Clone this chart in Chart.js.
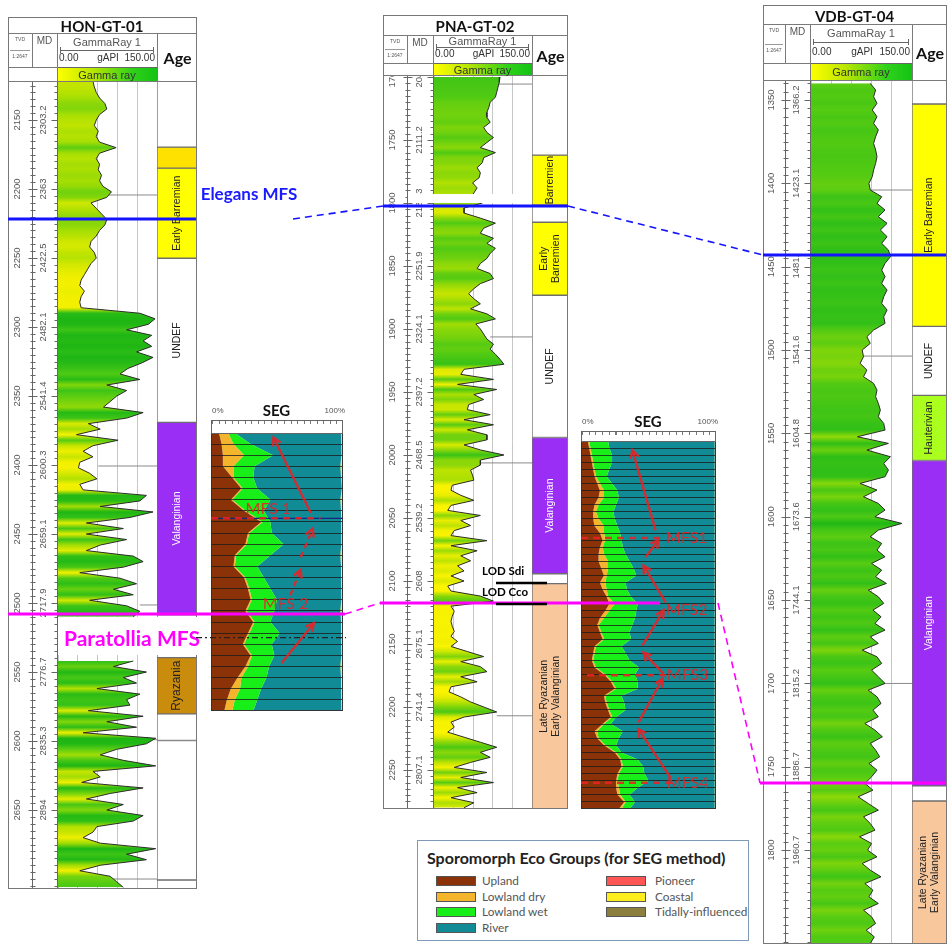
<!DOCTYPE html>
<html>
<head>
<meta charset="utf-8">
<title>Well correlation HON-GT-01 / PNA-GT-02 / VDB-GT-04</title>
<script src="https://cdn.jsdelivr.net/npm/chart.js@4.4.1/dist/chart.umd.min.js"></script>
<style>
  html,body{margin:0;padding:0;background:#fff;}
  #page{position:relative;width:951px;height:945px;overflow:hidden;background:#fff;font-family:'Liberation Sans',Arial,sans-serif;}
  #page canvas{position:absolute;}
</style>
</head>
<body>
<div id="page"></div>
<script>
// ---------------- well data ----------------
const WELL_NAMES = ['HON-GT-01', 'PNA-GT-02', 'VDB-GT-04'];

// HON-GT-01 : TVD ticks and matching MD labels
const HON_TVD_TICKS = [2150, 2200, 2250, 2300, 2350, 2400, 2450, 2500, 2550, 2600, 2650];
const HON_MD_LABELS = ['2303.2', '2363', '2422.5', '2482.1', '2541.4', '2600.3', '2659.1', '2717.9', '2776.7', '2835.3', '2894'];
// gamma ray (gAPI) sampled every 4 m TVD from 2122 m
const HON_GR_START = 2122, HON_GR_STEP = 4;
const HON_GR = [53,55,58,63,71,74,63,58,55,61,58,63,88,63,58,63,61,66,63,68,81,74,50,58,66,74,71,63,58,50,48,55,58,50,45,40,35,33,40,35,33,35,124,147,137,104,142,129,142,119,144,127,106,94,124,
  74,104,89,79,69,129,104,46,64,28,91,53,38,53,33,31,48,59,33,38,134,124,64,144,109,43,99,43,104,64,43,114,129,99,33,94,119,84,114,48,104,124,114,
  null,null,null,null,null,null,null,
  114,84,134,99,119,59,124,104,109,46,129,74,119,38,148,134,89,64,99,148,53,64,36,129,79,43,99,74,129,114,59,53,38,64,148,104,134,64,33,79,89,99];
const HON_AGE_BOUNDS = [2121.7, 2169.6, 2184.8, 2250, 2368.8, 2508, 2539, 2579.7, 2599, 2700, 2706.5];
const HON_AGE_LABELS = ['', '', 'Early Barremian', 'UNDEF', 'Valanginian', '', 'Ryazania', '', '', ''];
const HON_AGE_KINDS = ['blank', 'barremianUpper', 'earlyBarremian', 'undef', 'valanginian', 'blank', 'ryazanian', 'blank', 'blank', 'blank'];
const HON_TOPS_TVD = [2204.3, 2400.7, 2501.4, 2599, 2700];
const HON_TOPS_GR = [74, 61, 124, 135, 79];

// PNA-GT-02
const PNA_TVD_TICKS = [1700, 1750, 1800, 1850, 1900, 1950, 2000, 2050, 2100, 2150, 2200, 2250];
const PNA_MD_LABELS = ['2041', '2111.2', '2181.3', '2251.9', '2324.1', '2397.2', '2468.5', '2539.2', '2608', '2675.1', '2741.4', '2807.1'];
const PNA_GR_START = 1700, PNA_GR_STEP = 4;
const PNA_GR = [101,100,98,96,94,86,84,81,81,86, 76,81,91,81,71,94,76,74,66,71, 69,59,66,61,56,74,46,46,71,94,
  76,71,91,81,94,86,81,71,66,86, 91,71,61,53,61,71,56,81,94,64, 71,76,81,91,86,94,101,107,46,41,
  91,36,96,61,76,53,51,86,46,91, 51,81,81,46,71,107,71,71,56,59, 61,28,26,41,61,26,21,71,41,56,
  31,26,81,26,66,41,56,36,46,26, 46,21,26,71,91,26,31,28,26,28, 31,26,36,26,51,76,41,71,81,41,
  66,26,23,41,56,76,96,46,26,31, 21,46,71,96,71,86, 56,31,81,41,91,36,66,26,61,46];
const PNA_AGE_BOUNDS = [1698.4, 1761.9, 1801.6, 1815.1, 1873, 1985.7, 2093.7, 2101.6, 2280.2];
const PNA_AGE_LABELS = ['', 'Barremien', '', 'Early\nBarremien', 'UNDEF', 'Valanginian', '', 'Late Ryazanian\nEarly Valanginian'];
const PNA_AGE_KINDS = ['blank', 'earlyBarremian', 'blank', 'earlyBarremian', 'undef', 'valanginian', 'blank', 'lateRyazanian'];
const PNA_TOPS_TVD = [1705.6, 1906.3, 2006.3, 2207];
const PNA_TOPS_GR = [86, 86, 66, 96];
const PNA_LOD_NAMES = ['LOD Sdi', 'LOD Cco'];
const PNA_LOD_TVD = [2101.6, 2118.3];

// VDB-GT-04
const VDB_TVD_TICKS = [1350, 1400, 1450, 1500, 1550, 1600, 1650, 1700, 1750, 1800];
const VDB_MD_LABELS = ['1366.2', '1423.1', '1481.', '1541.6', '1604.8', '1673.6', '1744.1', '1815.2', '1886.7', '1960.7'];
const VDB_GR_START = 1340, VDB_GR_STEP = 4;
const VDB_GR = [88,96,93,98,91,98,93,100,96,93, 96,98,96,93,91,86,88,105,98,110, 100,113,103,113,105,115,118,110,105,110,
  105,113,108,105,113,108,110,93,83,88, 76,78,73,83,78,93,98,96,100,103, 100,108,110,69,115,83,118,108,115,110,
  73,98,78, 100,110,95,135,100,88,105,98,110,90, 105,96,112,85,100,108,92,104,95,110, 88,100,76,98,105,90,100,110,85,98,
  104,92,100,80,95,106,88,96,102,86, 98,90,80,92,70,85,100,78,88,95, 72,90,84,98,76,88,104,80,92,86, 100,78,90,96,82,94,88];
const VDB_AGE_BOUNDS = [1338, 1352.4, 1485.6, 1527, 1566, 1761, 1770, 1855.7];
const VDB_AGE_LABELS = ['', 'Early Barremian', 'UNDEF', 'Hauterivian', 'Valanginian', '', 'Late Ryazanian\nEarly Valanginian'];
const VDB_AGE_KINDS = ['blank', 'earlyBarremian', 'undef', 'hauterivian', 'valanginian', 'blank', 'lateRyazanian'];
const VDB_TOPS_TVD = [1404, 1503.6, 1700];
const VDB_TOPS_GR = [88, 69, 100];

// maximum flooding surfaces (TVD per well: HON, PNA, VDB)
const MFS_NAMES = ['Elegans MFS', 'Paratollia MFS'];
const MFS_HON = [2221.7, 2508];
const MFS_PNA = [1802.4, 2117.5];
const MFS_VDB = [1443, 1759.7];

// ---------------- SEG (sporomorph eco groups, % per sample) ----------------
const SEG_GROUPS = ['Upland', 'Lowland dry', 'Lowland wet', 'River', 'Coastal'];
const SEG1_UPLAND  = [6,8,9,9,16,23,15,25,38,28,26,18,17,25,28,30,26,32,28,24,30,26,20,15,12,10];
const SEG1_LOWDRY  = [7,9,16,8,1,1,1,1,1,1,1,1,1,1,1,1,1,1,1,1,1,2,3,7,6,6];
const SEG1_LOWWET  = [5,13,22,16,15,11,29,14,6,17,28,26,17,14,16,19,21,12,23,21,17,16,19,16,17,16];
const SEG1_RIVER   = [80.5,68.5,52,65,66.5,64,53,58.5,54,52.5,43.5,53,63.5,59,53.5,48.5,50,53.5,47,52.5,50.5,54,56.5,61,63.5,66.5];
const SEG1_COASTAL = [1.5,1.5,1,2,1.5,1,2,1.5,1,1.5,1.5,2,1.5,1,1.5,1.5,2,1.5,1,1.5,1.5,2,1.5,1,1.5,1.5];

const SEG2_UPLAND  = [5,6,7,8,9,10,12,14,13,10, 9,9,10,14,16,14,13,13,15,17, 14,16,19,21,18,14,12,14,16,10, 9,8,10,17,22,25,17,18,20,22, 16,10,12,17,25,29,30,27,26,26, 27,32,28];
const SEG2_LOWDRY  = [1,1,1,1,1,1,2,3,4,3, 2,4,7,3,2,2,4,7,5,2, 4,3,1,4,3,3,1,1,1,1, 1,1,1,1,1,1,1,1,1,1, 1,2,1,1,1,1,1,1,1,2, 2,1,2];
const SEG2_LOWWET  = [14,14,15,14,11,8,9,10,11,13, 13,12,10,12,12,15,16,16,19,22, 15,15,17,17,20,23,25,21,20,19, 23,27,32,22,19,16,12,13,12,3, 5,19,15,8,4,12,15,19,23,14, 7,7,6];
const SEG2_RIVER   = [79,78,76,76,78,80,76,72,71,73, 75,74,72,70,69,68,66,63,60,58, 66,65,62,57,58,59,61,63,62,69, 66,63,56,59,57,57,69,67,66,73, 77,68,71,73,69,57,53,52,49,57, 63,59,63];
const SEG2_COASTAL = [1,1,1,1,1,1,1,1,1,1, 1,1,1,1,1,1,1,1,1,1, 1,1,1,1,1,1,1,1,1,1, 1,1,1,1,1,1,1,1,1,1, 1,1,1,1,1,1,1,1,1,1, 1,1,1];

// SEG interpretation: MFS positions (sample index) and trend arrows [x%, sample, x%, sample, dashed]
const SEG1_MFS_NAMES = ['MFS 1', 'MFS 2'];
const SEG1_MFS_SAMPLE = [7.67, 15.4];
const SEG1_ARROWS = [[75.6, 7.2, 47.3, 0.4, false], [67.9, 11.2, 77.1, 8.6, true], [60, 14.6, 67.9, 12.3, true], [53.4, 20.7, 77.9, 17.1, false]];
const SEG2_MFS_NAMES = ['MFS1', 'MFS2', 'MFS3', 'MFS4'];
const SEG2_MFS_SAMPLE = [13.7, 23.1, 33.1, 48.3];
const SEG2_ARROWS = [[55.2, 12.6, 38.1, 1.3, false], [47.8, 16.4, 57.5, 14.0, false], [62.7, 22.8, 46.3, 17.6, false],
  [45.5, 28.9, 61.2, 23.9, false], [61.2, 32.9, 46.3, 29.9, false], [42.5, 39.8, 60.4, 33.6, false], [66.4, 47.6, 42.5, 40.7, false]];

const LEGEND_COL1 = ['Upland', 'Lowland dry', 'Lowland wet', 'River'];
const LEGEND_COL2 = ['Pioneer', 'Coastal', 'Tidally-influenced'];

// ---------------- styles ----------------
const SEG_COLORS = {'Upland': '#8b3208', 'Lowland dry': '#f4b42c', 'Lowland wet': '#18ef18', 'River': '#118c96',
  'Pioneer': '#ff5555', 'Coastal': '#ffee1e', 'Tidally-influenced': '#8c7f3e'};
const AGE_FILL = {blank: '#ffffff', undef: '#ffffff', barremianUpper: '#ffe100', earlyBarremian: '#ffff00',
  valanginian: '#9a2ef5', hauterivian: '#aaff1e', ryazanian: '#c98c0c', lateRyazanian: '#f8c79c'};
const AGE_TEXT = {valanginian: '#ffffff'};
const GR_RAMP = [[20, [255, 245, 0]], [40, [236, 238, 0]], [55, [192, 228, 0]], [70, [142, 216, 8]],
  [90, [88, 204, 18]], [110, [50, 192, 24]], [140, [30, 182, 20]]];
const RED = 'rgba(236,32,36,0.88)';

// panel geometry (page pixels)
const LAYOUT = [
  {L: 8, R: 196, top: 17, titleBot: 33, barTop: 67, logTop: 81, logBot: 888, cTvd: 32, cMd: 57, cGr: 157, gTitleY: 42, rulerY: 50, valY: 58, yMin: 2121.7, yMax: 2706.5},
  {L: 383, R: 567, top: 15, titleBot: 35, barTop: 63, logTop: 75, logBot: 808, cTvd: 407, cMd: 433, cGr: 532, gTitleY: 41, rulerY: 47, valY: 54, yMin: 1698.4, yMax: 2280.2},
  {L: 763, R: 946, top: 5, titleBot: 24, barTop: 63, logTop: 80, logBot: 943, cTvd: 785, cMd: 810, cGr: 912, gTitleY: 33, rulerY: 42, valY: 52, yMin: 1338, yMax: 1855.7}
];
const SEG_LAYOUT = [
  {L: 211, R: 342, titleY: 410, bandTop: 420, dataTop: 433, dataBot: 710},
  {L: 581, R: 715, titleY: 421, bandTop: 431, dataTop: 441, dataBot: 808}
];

// ---------------- helpers ----------------
const page = document.getElementById('page');
function div(x, y, w, h, css) {
  const e = document.createElement('div');
  Object.assign(e.style, {position: 'absolute', left: x + 'px', top: y + 'px', width: w + 'px', height: h + 'px', boxSizing: 'border-box'}, css || {});
  page.appendChild(e);
  return e;
}
function hline(x1, x2, y, c, w) { return div(x1, y, x2 - x1, w || 1, {background: c || '#7a7a7a', zIndex: 4}); }
function vline(x, y1, y2, c, w) { return div(x, y1, w || 1, y2 - y1, {background: c || '#7a7a7a', zIndex: 4}); }
function text(str, x, y, o) {
  o = o || {};
  const e = document.createElement('div');
  e.textContent = str;
  Object.assign(e.style, {position: 'absolute', left: x + 'px', top: y + 'px', whiteSpace: 'pre', lineHeight: '1',
    fontFamily: o.family || "'Liberation Sans', Arial, sans-serif", fontSize: (o.size || 10) + 'px',
    fontWeight: o.weight || 'normal', color: o.color || '#333', zIndex: o.z || 5,
    transform: 'translate(' + (o.ax == null ? -50 : o.ax) + '%,-50%)'});
  page.appendChild(e);
  return e;
}
function canvasAt(x, y, w, h, z) {
  const c = document.createElement('canvas');
  c.width = w; c.height = h;
  Object.assign(c.style, {left: x + 'px', top: y + 'px', width: w + 'px', height: h + 'px', zIndex: z || 2});
  page.appendChild(c);
  return c;
}
function grColor(v) {
  const r = GR_RAMP;
  let c = r[r.length - 1][1];
  if (v <= r[0][0]) c = r[0][1];
  else for (let i = 1; i < r.length; i++) {
    if (v <= r[i][0]) {
      const t = (v - r[i - 1][0]) / (r[i][0] - r[i - 1][0]);
      c = r[i - 1][1].map((a, k) => Math.round(a + (r[i][1][k] - a) * t));
      break;
    }
  }
  return 'rgb(' + c.join(',') + ')';
}
function arrow(ctx, x1, y1, x2, y2, dashed, color, width) {
  const a = Math.atan2(y2 - y1, x2 - x1), head = 9;
  ctx.save();
  ctx.strokeStyle = color; ctx.lineWidth = width; ctx.lineCap = 'butt';
  ctx.setLineDash(dashed ? [6, 4] : []);
  ctx.beginPath(); ctx.moveTo(x1, y1); ctx.lineTo(x2 - Math.cos(a) * 2, y2 - Math.sin(a) * 2); ctx.stroke();
  ctx.setLineDash([]);
  ctx.beginPath();
  ctx.moveTo(x2 - head * Math.cos(a - 0.5), y2 - head * Math.sin(a - 0.5));
  ctx.lineTo(x2, y2);
  ctx.lineTo(x2 - head * Math.cos(a + 0.5), y2 - head * Math.sin(a + 0.5));
  ctx.stroke();
  ctx.restore();
}

// ---------------- well header (HTML) ----------------
function wellHeader(name, lay) {
  div(lay.L, lay.top, lay.R - lay.L + 1, lay.logBot - lay.top + 1, {border: '1px solid #777', zIndex: 4});
  text(name, (lay.L + lay.R) / 2, (lay.top + lay.titleBot) / 2 + 1, {size: 15, weight: 'bold', color: '#111', family: 'Lato, sans-serif'});
  hline(lay.L, lay.R, lay.titleBot);
  vline(lay.cTvd, lay.titleBot, lay.barTop);
  vline(lay.cMd, lay.titleBot, lay.logTop);
  vline(lay.cGr, lay.titleBot, lay.logTop);
  hline(lay.L, lay.cMd, lay.barTop);
  hline(lay.L, lay.R, lay.logTop);
  const tc = (lay.L + lay.cTvd) / 2, mid = (lay.titleBot + lay.barTop) / 2;
  text('TVD', tc, lay.titleBot + 6, {size: 5, color: '#555'});
  hline(lay.L + 2, lay.cTvd - 2, mid, '#999');
  text('1:2647', tc, mid + 6, {size: 5, color: '#555'});
  text('MD', (lay.cTvd + lay.cMd) / 2, lay.titleBot + 8, {size: 10, color: '#555'});
  const gc = (lay.cMd + lay.cGr) / 2;
  text('GammaRay 1', gc, lay.gTitleY, {size: 11, color: '#555'});
  hline(lay.cMd + 3, lay.cGr - 3, lay.rulerY, '#666');
  vline(lay.cMd + 3, lay.rulerY - 3, lay.rulerY + 3, '#666');
  vline(lay.cGr - 4, lay.rulerY - 3, lay.rulerY + 3, '#666');
  text('0.00', lay.cMd + 2, lay.valY, {size: 10, color: '#333', ax: 0});
  text('gAPI', gc + 1, lay.valY, {size: 10, color: '#333'});
  text('150.00', lay.cGr - 2, lay.valY, {size: 10, color: '#333', ax: -100});
  div(lay.cMd, lay.barTop, lay.cGr - lay.cMd + 1, lay.logTop - lay.barTop + 1,
    {background: 'linear-gradient(to right, #ffff00 0%, #b8e600 35%, #2fd11a 75%, #14c314 100%)', border: '1px solid #666', zIndex: 3});
  text('Gamma ray', gc, (lay.barTop + lay.logTop) / 2 + 0.5, {size: 11, color: '#333'});
  text('Age', (lay.cGr + lay.R) / 2 + 1, (lay.titleBot + lay.logTop) / 2 + 1, {size: 16, weight: 'bold', color: '#111', family: 'Lato, sans-serif'});
}

// ---------------- log track (Chart.js) ----------------
function logChart(lay, w) {
  const cv = canvasAt(lay.L, lay.logTop, lay.cGr - lay.L + 1, lay.logBot - lay.logTop, 2);
  const pts = w.gr.map((v, i) => ({x: v, y: w.start + w.step * i}));
  const datasets = [{
    data: pts, borderColor: '#2b2b2b', borderWidth: 1, pointRadius: 0, fill: 'origin', spanGaps: false, tension: 0,
    backgroundColor: (c) => {
      const ch = c.chart, area = ch.chartArea, ys = ch.scales.y;
      if (!area || !ys) return '#8fd00a';
      const g = ch.ctx.createLinearGradient(0, area.top, 0, area.bottom);
      const h = area.bottom - area.top;
      pts.forEach(p => {
        if (p.x == null) return;
        const t = (ys.getPixelForValue(p.y) - area.top) / h;
        if (t >= 0 && t <= 1) g.addColorStop(t, grColor(p.x));
      });
      return g;
    }
  }];
  w.topsTvd.forEach((d, i) => datasets.push({data: [{x: w.topsGr[i], y: d}, {x: 150, y: d}], borderColor: '#8a8a8a', borderWidth: 1, pointRadius: 0, fill: false}));
  const frame = {
    id: 'wellFrame',
    afterDraw(chart) {
      const ctx = chart.ctx, y = chart.scales.y, area = chart.chartArea;
      const xT = lay.cTvd - lay.L + 0.5, xM = lay.cMd - lay.L + 0.5;
      ctx.save();
      ctx.strokeStyle = '#666'; ctx.lineWidth = 1;
      ctx.beginPath();
      ctx.moveTo(xT, 0); ctx.lineTo(xT, area.bottom);
      ctx.moveTo(xM, 0); ctx.lineTo(xM, area.bottom);
      for (let d = Math.ceil(y.min / 5) * 5; d <= y.max; d += 5) {
        const py = Math.round(y.getPixelForValue(d)) + 0.5;
        ctx.moveTo(xT - 2, py); ctx.lineTo(xT + 3, py);
        ctx.moveTo(xM - 3, py); ctx.lineTo(xM, py);
      }
      ctx.stroke();
      ctx.font = '9.5px "Liberation Sans", Arial, sans-serif';
      ctx.fillStyle = '#555'; ctx.textAlign = 'center'; ctx.textBaseline = 'middle';
      w.ticks.forEach((t, i) => {
        const py = y.getPixelForValue(t);
        ctx.beginPath(); ctx.moveTo(xT - 4, Math.round(py) + 0.5); ctx.lineTo(xT + 5, Math.round(py) + 0.5);
        ctx.moveTo(xM - 6, Math.round(py) + 0.5); ctx.lineTo(xM, Math.round(py) + 0.5); ctx.stroke();
        [[(lay.L + lay.cTvd) / 2 - lay.L - 3, String(t)], [(lay.cTvd + lay.cMd) / 2 - lay.L - 1, w.md[i]]].forEach(([x, s]) => {
          ctx.save(); ctx.translate(x, py); ctx.rotate(-Math.PI / 2);
          ctx.fillStyle = '#fff'; const tw = ctx.measureText(s).width; ctx.fillRect(-tw / 2 - 1, -5, tw + 2, 10);
          ctx.fillStyle = '#555'; ctx.fillText(s, 0, 0); ctx.restore();
        });
      });
      ctx.restore();
    }
  };
  return new Chart(cv, {
    type: 'line', data: {datasets},
    options: {
      indexAxis: 'y', responsive: false, animation: false, events: [],
      layout: {padding: {left: lay.cMd - lay.L + 1, right: 1, top: 0, bottom: 0}},
      plugins: {legend: {display: false}, tooltip: {enabled: false}},
      scales: {
        x: {type: 'linear', min: 0, max: 150, ticks: {display: false, stepSize: 30}, grid: {color: '#c6c6c6', drawTicks: false}, border: {display: false},
          afterFit(s) { s.height = 0; }},
        y: {type: 'linear', reverse: true, min: lay.yMin, max: lay.yMax, display: false}
      }
    },
    plugins: [frame]
  });
}

// ---------------- age column (floating bars) ----------------
function ageChart(lay, bounds, labels, kinds) {
  const cv = canvasAt(lay.cGr, lay.logTop, lay.R - lay.cGr + 1, lay.logBot - lay.logTop + 1, 2);
  const datasets = labels.map((lab, i) => ({
    label: lab, data: [[bounds[i], bounds[i + 1]]], backgroundColor: AGE_FILL[kinds[i]],
    borderColor: '#6e6e6e', borderWidth: 1, borderSkipped: false, barPercentage: 1, categoryPercentage: 1, grouped: false
  }));
  const names = {
    id: 'ageNames',
    afterDatasetsDraw(chart) {
      const ctx = chart.ctx;
      chart.data.datasets.forEach((ds, i) => {
        if (!ds.label) return;
        const bar = chart.getDatasetMeta(i).data[0];
        const cy = (bar.y + bar.base) / 2;
        const lines = ds.label.split('\n');
        ctx.save();
        ctx.translate(bar.x, cy); ctx.rotate(-Math.PI / 2);
        ctx.font = (kinds[i] === 'ryazanian' ? '12px' : '10.5px') + ' "Liberation Sans", Arial, sans-serif';
        ctx.fillStyle = AGE_TEXT[kinds[i]] || '#222';
        ctx.textAlign = 'center'; ctx.textBaseline = 'middle';
        lines.forEach((s, k) => ctx.fillText(s, 0, (k - (lines.length - 1) / 2) * 12));
        ctx.restore();
      });
    }
  };
  return new Chart(cv, {
    type: 'bar', data: {labels: ['Age'], datasets},
    options: {
      responsive: false, animation: false, events: [],
      layout: {padding: 0},
      plugins: {legend: {display: false}, tooltip: {enabled: false}},
      scales: {x: {display: false}, y: {type: 'linear', reverse: true, min: lay.yMin, max: lay.yMax, display: false}}
    },
    plugins: [names]
  });
}

// ---------------- SEG panel (stacked areas) ----------------
function segChart(lay, series, mfsNames, mfsSamples, arrows, extra) {
  const n = series[0].length;
  div(lay.L, lay.bandTop, lay.R - lay.L + 1, lay.dataTop - lay.bandTop + 1, {border: '1px solid #666', zIndex: 3,
    background: 'repeating-linear-gradient(to right, #777 0 1px, transparent 1px ' + ((lay.R - lay.L) / 20) + 'px) top / 100% 3px no-repeat, #fff'});
  text('SEG', (lay.L + lay.R) / 2, lay.titleY, {size: 15, weight: 'bold', color: '#111', family: 'Lato, sans-serif'});
  text('0%', lay.L + 1, lay.titleY + 1, {size: 8, color: '#555', ax: 0});
  text('100%', lay.R + 3, lay.titleY + 1, {size: 8, color: '#555', ax: -100});
  const cv = canvasAt(lay.L, lay.dataTop, lay.R - lay.L + 1, lay.dataBot - lay.dataTop + 1, 2);
  const datasets = SEG_GROUPS.map((g, gi) => ({
    label: g, data: series[gi].map((v, k) => ({x: v, y: k})), backgroundColor: SEG_COLORS[g],
    borderWidth: 0, pointRadius: 0, fill: gi === 0 ? 'origin' : '-1', tension: 0
  }));
  const notes = {
    id: 'segNotes',
    afterDraw(chart) {
      const ctx = chart.ctx, xs = chart.scales.x, ys = chart.scales.y;
      ctx.save();
      ctx.strokeStyle = '#333'; ctx.lineWidth = 1; ctx.strokeRect(0.5, 0.5, chart.width - 1, chart.height - 1);
      (extra.solid || []).forEach(s => {
        const y = ys.getPixelForValue(s[0]);
        ctx.strokeStyle = s[1]; ctx.lineWidth = 1.3;
        ctx.beginPath(); ctx.moveTo(0, y); ctx.lineTo(chart.width, y); ctx.stroke();
      });
      mfsNames.forEach((nm, i) => {
        const y = ys.getPixelForValue(mfsSamples[i]);
        const span = extra.dash[i];
        if (span) {
          ctx.strokeStyle = RED; ctx.lineWidth = 2.6; ctx.setLineDash([7, 5]);
          ctx.beginPath(); ctx.moveTo(xs.getPixelForValue(span[0]), y); ctx.lineTo(xs.getPixelForValue(span[1]), y); ctx.stroke();
          ctx.setLineDash([]);
        }
        ctx.font = '16px Lato, sans-serif'; ctx.fillStyle = RED; ctx.textAlign = 'center'; ctx.textBaseline = 'middle';
        ctx.fillText(nm, xs.getPixelForValue(extra.labelX[i]), ys.getPixelForValue(extra.labelK[i]));
      });
      arrows.forEach(a => arrow(ctx, xs.getPixelForValue(a[0]), ys.getPixelForValue(a[1]), xs.getPixelForValue(a[2]), ys.getPixelForValue(a[3]), a[4], RED, 2.4));
      ctx.restore();
    }
  };
  return new Chart(cv, {
    type: 'line', data: {datasets},
    options: {
      indexAxis: 'y', responsive: false, animation: false, events: [],
      layout: {padding: 0},
      plugins: {legend: {display: false}, tooltip: {enabled: false}},
      scales: {
        x: {type: 'linear', stacked: true, min: 0, max: 100, display: false},
        y: {type: 'linear', reverse: true, min: 0, max: n - 1, ticks: {display: false, stepSize: 1, maxTicksLimit: 1000},
          grid: {z: 1, color: '#1c1c1c', lineWidth: 0.8, drawTicks: false}, border: {display: false},
          afterFit(s) { s.width = 0; }}
      }
    },
    plugins: [notes]
  });
}

// ---------------- build ----------------
const WELLS = [
  {gr: HON_GR, start: HON_GR_START, step: HON_GR_STEP, ticks: HON_TVD_TICKS, md: HON_MD_LABELS, topsTvd: HON_TOPS_TVD, topsGr: HON_TOPS_GR,
    ages: [HON_AGE_BOUNDS, HON_AGE_LABELS, HON_AGE_KINDS]},
  {gr: PNA_GR, start: PNA_GR_START, step: PNA_GR_STEP, ticks: PNA_TVD_TICKS, md: PNA_MD_LABELS, topsTvd: PNA_TOPS_TVD, topsGr: PNA_TOPS_GR,
    ages: [PNA_AGE_BOUNDS, PNA_AGE_LABELS, PNA_AGE_KINDS]},
  {gr: VDB_GR, start: VDB_GR_START, step: VDB_GR_STEP, ticks: VDB_TVD_TICKS, md: VDB_MD_LABELS, topsTvd: VDB_TOPS_TVD, topsGr: VDB_TOPS_GR,
    ages: [VDB_AGE_BOUNDS, VDB_AGE_LABELS, VDB_AGE_KINDS]}
];
const logCharts = WELLS.map((w, i) => {
  wellHeader(WELL_NAMES[i], LAYOUT[i]);
  const c = logChart(LAYOUT[i], w);
  ageChart(LAYOUT[i], w.ages[0], w.ages[1], w.ages[2]);
  return c;
});

const seg1 = segChart(SEG_LAYOUT[0], [SEG1_UPLAND, SEG1_LOWDRY, SEG1_LOWWET, SEG1_RIVER, SEG1_COASTAL], SEG1_MFS_NAMES, SEG1_MFS_SAMPLE, SEG1_ARROWS,
  {dash: [[0, 83], null], labelX: [43.5, 56.5], labelK: [6.8, 15.4], solid: [[7.67, '#1a237e']]});
const seg2 = segChart(SEG_LAYOUT[1], [SEG2_UPLAND, SEG2_LOWDRY, SEG2_LOWWET, SEG2_RIVER, SEG2_COASTAL], SEG2_MFS_NAMES, SEG2_MFS_SAMPLE, SEG2_ARROWS,
  {dash: [[0, 59], null, [4.5, 63], [0, 69]], labelX: [78.4, 78.4, 79, 79], labelK: [13.7, 23.9, 33.1, 48.3]});

// Paratollia label box over HON
div(58, 617, 148, 38, {background: '#fff', zIndex: 6});
text('Paratollia MFS', 132, 637, {size: 21, weight: 'bold', color: '#ff00ff', family: 'Lato, sans-serif', z: 7});
text('Elegans MFS', 249, 193, {size: 17, weight: 'bold', color: '#1a1aff', family: 'Lato, sans-serif', z: 7});

// ---------------- correlation overlay ----------------
const ov = canvasAt(0, 0, 951, 945, 8);
ov.style.pointerEvents = 'none';
const octx = ov.getContext('2d');
function pageY(i, d) { return LAYOUT[i].logTop + logCharts[i].scales.y.getPixelForValue(d); }
// white gap that the Elegans surface cuts through the PNA-GT-02 MD column and log
{
  const y = pageY(1, MFS_PNA[0]);
  octx.fillStyle = '#fff';
  octx.fillRect(LAYOUT[1].cTvd + 1, y - 12, LAYOUT[1].cGr - LAYOUT[1].cTvd - 1, 9);
}
const CORR_STYLE = [
  {color: '#1414ff', solid: [[8, 196], [383, 568], [763, 946]], dashed: [[293, 383], [568, 763]]},
  {color: '#ff00ff', solid: [[8, 345], [380, 660], [760, 946]], dashed: [[345, 380], [718, 760]]}
];
MFS_NAMES.forEach((nm, m) => {
  const depths = [MFS_HON[m], MFS_PNA[m], MFS_VDB[m]];
  const st = CORR_STYLE[m];
  const ys = depths.map((d, i) => pageY(i, d));
  octx.strokeStyle = st.color; octx.lineCap = 'butt';
  octx.lineWidth = 3; octx.setLineDash([]);
  st.solid.forEach((s, i) => { octx.beginPath(); octx.moveTo(s[0], ys[i]); octx.lineTo(s[1], ys[i]); octx.stroke(); });
  octx.lineWidth = 1.6; octx.setLineDash([7, 5]);
  st.dashed.forEach((s, i) => { octx.beginPath(); octx.moveTo(s[0], ys[i]); octx.lineTo(s[1], ys[i + 1]); octx.stroke(); });
});
octx.setLineDash([]);
// dash-dot marker across SEG1
{
  const y = SEG_LAYOUT[0].dataTop + seg1.scales.y.getPixelForValue(18.4);
  octx.strokeStyle = '#222'; octx.lineWidth = 1.3; octx.setLineDash([6, 3, 2, 3]);
  octx.beginPath(); octx.moveTo(196, y); octx.lineTo(346, y); octx.stroke();
  octx.setLineDash([]);
}
// last-occurrence datums in PNA-GT-02
PNA_LOD_NAMES.forEach((nm, i) => {
  const y = pageY(1, PNA_LOD_TVD[i]);
  octx.strokeStyle = '#000'; octx.lineWidth = 2.6;
  octx.beginPath(); octx.moveTo(496, y); octx.lineTo(547, y); octx.stroke();
  octx.font = 'bold 11.5px Lato, sans-serif'; octx.fillStyle = '#000'; octx.textAlign = 'left'; octx.textBaseline = 'middle';
  octx.fillText(nm, 482, y - 12);
});

// ---------------- legend ----------------
div(417, 840, 332, 101, {border: '1px solid #7f9ab8', background: '#fff', zIndex: 3});
text('Sporomorph Eco Groups (for SEG method)', 427, 858, {size: 16, weight: 'bold', color: '#222', family: 'Lato, sans-serif', ax: 0});
[[LEGEND_COL1, 436, 482], [LEGEND_COL2, 606, 655]].forEach(([items, sx, tx]) => {
  items.forEach((nm, r) => {
    const y = 881 + r * 15.7;
    div(sx, y - 5, 40, 10, {background: SEG_COLORS[nm], border: '1px solid #555', zIndex: 4});
    text(nm, tx, y, {size: 11.8, color: '#555', family: 'Lato, sans-serif', ax: 0});
  });
});
</script>
</body>
</html>
